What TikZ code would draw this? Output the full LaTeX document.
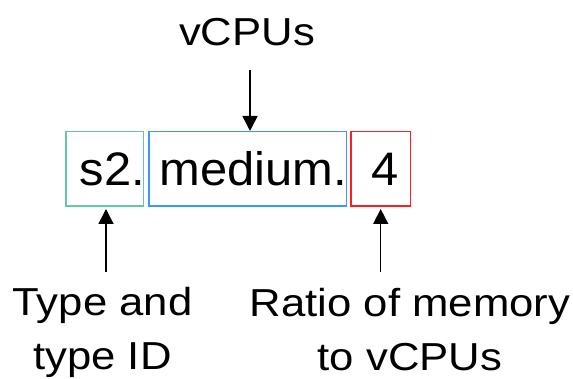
\documentclass[tikz,border=0pt]{standalone}
\usepackage{fontspec}
\setmainfont{Liberation Sans}
\newfontfamily\labfont{Liberation Sans}[FakeStretch=1.12]
\newfontfamily\boxfont{Liberation Sans}[FakeStretch=1.04]
\usetikzlibrary{arrows.meta}
\definecolor{cgreen}{RGB}{100,200,160}
\definecolor{cblue}{RGB}{60,150,255}
\definecolor{cred}{RGB}{255,30,30}
\tikzset{
  part/.style={draw=#1, line width=1.5pt, minimum height=74.5pt, inner sep=0pt, rectangle},
  parttext/.style={inner sep=0pt, font=\boxfont\fontsize{47}{56}\selectfont},
  lab/.style={inner sep=0pt, align=center, font=\labfont\fontsize{39}{54}\selectfont},
  pointer/.style={line width=1.5pt, -{Triangle[width=15pt,length=15pt]}}
}
\begin{document}
\begin{tikzpicture}[x=1pt,y=1pt]
\useasboundingbox (0,0) rectangle (573,378);
% boxes
\node[part=cgreen, minimum width=77.5pt] (green) at (104.5,209) {};
\node[part=cblue, minimum width=197.5pt] (blue) at (247.5,209) {};
\node[part=cred, minimum width=59.5pt] (red) at (380.5,209) {};
% box texts
\node[parttext, anchor=base east] (ts) at (145,192) {s2.};
\node[parttext, anchor=base east] (tm) at (347,192) {medium.};
\node[parttext, anchor=base] (tf) at (385.5,192) {4};
% labels (base anchor = baseline of last line)
\node[lab, anchor=base] (vcpu) at (247,332) {vCPUs};
\node[lab, anchor=base] (type) at (102.5,9) {Type and\\type ID};
\node[lab, anchor=base] (ratio) at (410,8) {Ratio of memory\\to vCPUs};
% arrows
\coordinate (atop) at (250,308);
\coordinate (aleft) at (106,106);
\coordinate (aright) at (380.7,106);
\draw[pointer] (atop) -- (atop |- blue.north);
\draw[pointer, shorten >=2pt] (aleft) -- (aleft |- green.south);
\draw[pointer, shorten >=2pt] (aright) -- (aright |- red.south);
\end{tikzpicture}
\end{document}
